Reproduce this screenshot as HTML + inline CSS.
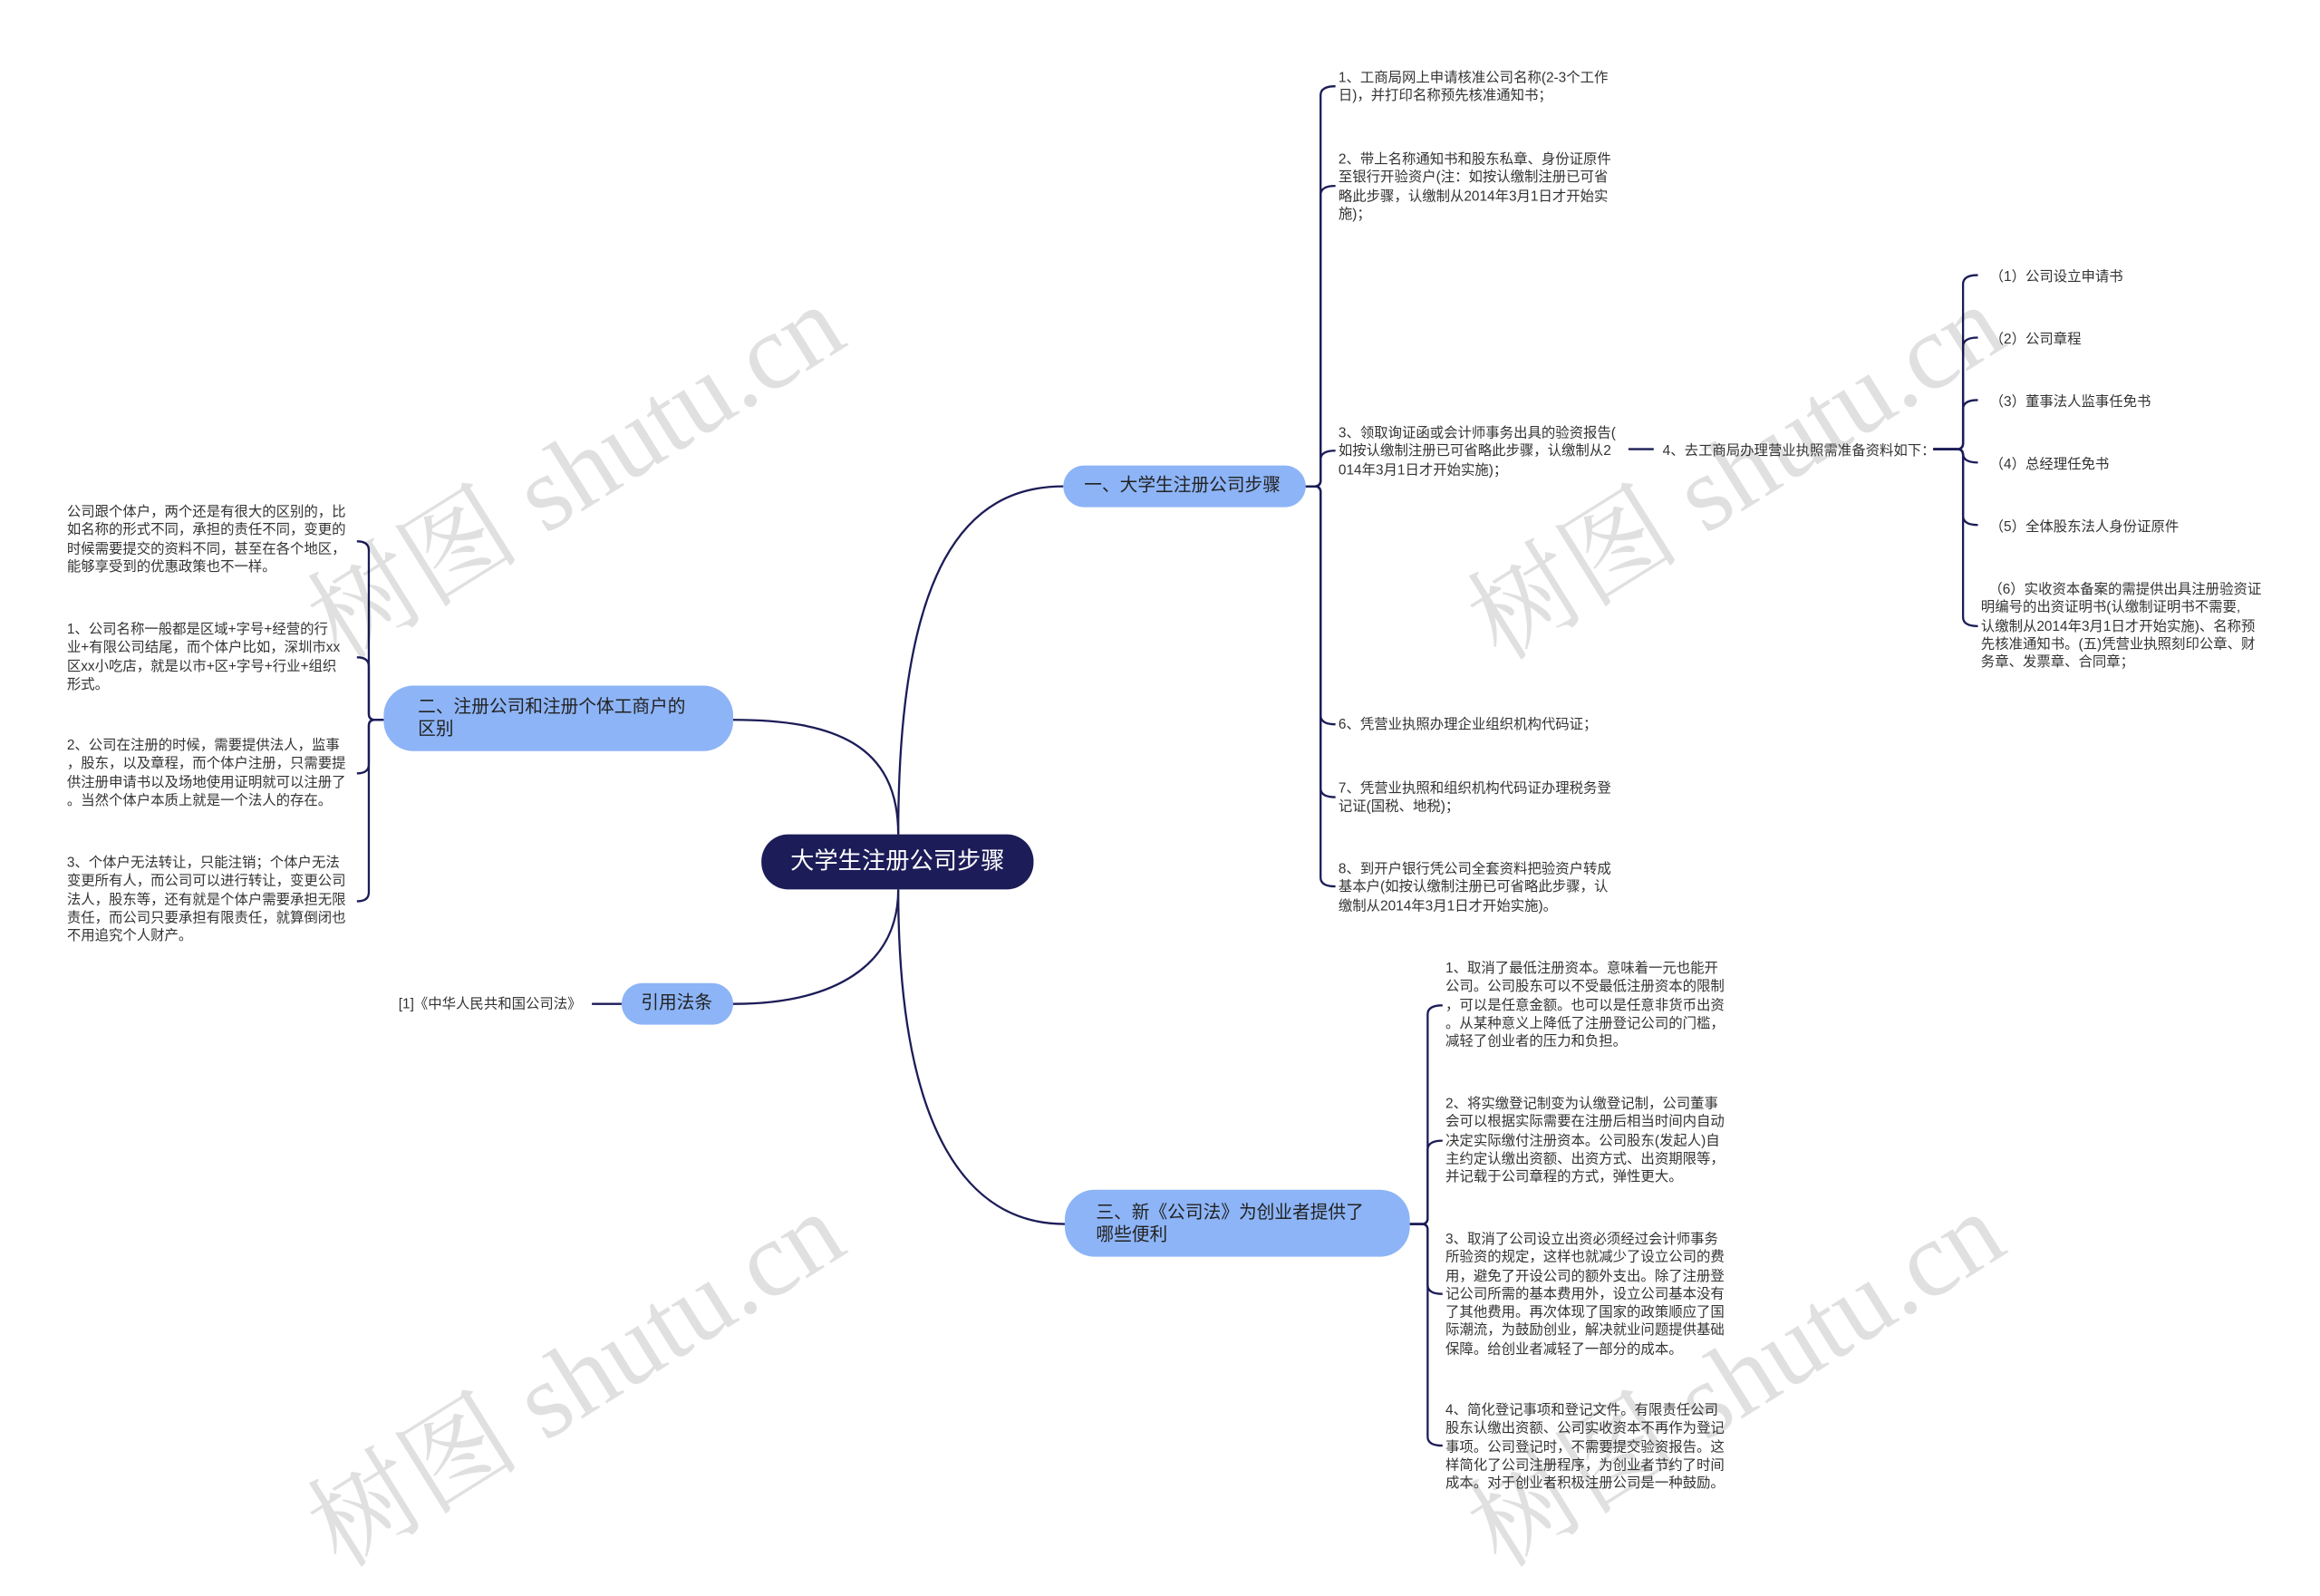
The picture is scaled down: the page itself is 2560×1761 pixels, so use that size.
<!DOCTYPE html>
<html><head><meta charset="utf-8">
<style>
html,body{margin:0;padding:0;background:#fff;}
body{width:2560px;height:1713px;overflow:hidden;position:relative;}
#w{position:absolute;left:0;top:0;width:1560px;height:1044px;transform:scale(1.641);transform-origin:0 0;font-family:"Liberation Sans","Noto Sans CJK SC",sans-serif;}
.t{position:absolute;font-size:9.4px;line-height:12.3px;color:#333;white-space:nowrap;}
.b{position:absolute;background:#8db4f6;border-radius:15px;color:#222;font-size:12px;line-height:15px;box-sizing:border-box;}
.root{position:absolute;left:512px;top:561px;width:183px;height:37px;background:#1c1c58;border-radius:18px;color:#fff;font-size:16px;line-height:37px;text-align:center;}
.wm{position:absolute;font-family:"Liberation Serif","Noto Serif CJK SC",serif;font-size:72px;color:rgba(0,0,0,0.12);transform:rotate(-32deg);transform-origin:0 0;white-space:nowrap;}
svg{position:absolute;left:0;top:0;}
</style></head><body><div id="w">
<svg width="1560" height="1044" fill="none" stroke="#1c1c58" stroke-width="1.4">
<path d="M604 561 C604 380 650 327 715 327"/>
<path d="M604 561 C604 500 560 484 493 484"/>
<path d="M604 598 C604 650 560 675 493 675"/>
<path d="M604 598 C604 760 650 823 716 823"/>
<path d="M878 327 H884 Q888 327 888 323 V64 Q888 58 898 58"/>
<path d="M878 327 H884 Q888 327 888 323 V131 Q888 125 898 125"/>
<path d="M878 327 H884 Q888 327 888 323 V309 Q888 303 898 303"/>
<path d="M878 327 H884 Q888 327 888 331 V481 Q888 487 898 487"/>
<path d="M878 327 H884 Q888 327 888 331 V530 Q888 536 898 536"/>
<path d="M878 327 H884 Q888 327 888 331 V590 Q888 596 898 596"/>
<path d="M1095 302 H1112"/>
<path d="M1300 302 H1316 Q1320 302 1320 298 V191 Q1320 185 1330 185"/>
<path d="M1300 302 H1316 Q1320 302 1320 298 V233 Q1320 227 1330 227"/>
<path d="M1300 302 H1316 Q1320 302 1320 298 V275 Q1320 269 1330 269"/>
<path d="M1300 302 H1316 Q1320 302 1320 306 V305 Q1320 311 1330 311"/>
<path d="M1300 302 H1316 Q1320 302 1320 306 V347 Q1320 353 1330 353"/>
<path d="M1300 302 H1316 Q1320 302 1320 306 V415 Q1320 421 1330 421"/>
<path d="M258 484 H252 Q248 484 248 480 V370 Q248 364 240 364"/>
<path d="M258 484 H252 Q248 484 248 480 V448 Q248 442 240 442"/>
<path d="M258 484 H252 Q248 484 248 488 V514 Q248 520 240 520"/>
<path d="M258 484 H252 Q248 484 248 488 V600 Q248 606 240 606"/>
<path d="M398 675 H418"/>
<path d="M948 823 H956 Q960 823 960 819 V682 Q960 676 970 676"/>
<path d="M948 823 H956 Q960 823 960 819 V773 Q960 767 970 767"/>
<path d="M948 823 H956 Q960 823 960 827 V864 Q960 870 970 870"/>
<path d="M948 823 H956 Q960 823 960 827 V966 Q960 972 970 972"/>
</svg>

<div class="wm" style="left:185px;top:375px;">树图 shutu.cn</div>
<div class="wm" style="left:965px;top:375px;">树图 shutu.cn</div>
<div class="wm" style="left:185px;top:985px;">树图 shutu.cn</div>
<div class="wm" style="left:965px;top:985px;">树图 shutu.cn</div>

<div class="root">大学生注册公司步骤</div>
<div class="b" style="left:715px;top:313px;width:163px;height:28px;padding:6px 0 0 14px;">一、大学生注册公司步骤</div>
<div class="b" style="left:258px;top:461px;width:235px;height:44px;padding:7px 0 0 23px;border-radius:20px;">二、注册公司和注册个体工商户的<br>区别</div>
<div class="b" style="left:418px;top:661px;width:75px;height:28px;padding:6px 0 0 13px;">引用法条</div>
<div class="b" style="left:716px;top:800px;width:232px;height:45px;padding:8px 0 0 21px;border-radius:20px;">三、新《公司法》为创业者提供了<br>哪些便利</div>

<div class="t" style="left:900px;top:46px;">1、工商局网上申请核准公司名称(2-3个工作<br>日)，并打印名称预先核准通知书；</div>
<div class="t" style="left:900px;top:101px;">2、带上名称通知书和股东私章、身份证原件<br>至银行开验资户(注：如按认缴制注册已可省<br>略此步骤，认缴制从2014年3月1日才开始实<br>施)；</div>
<div class="t" style="left:900px;top:285px;">3、领取询证函或会计师事务出具的验资报告(<br>如按认缴制注册已可省略此步骤，认缴制从2<br>014年3月1日才开始实施)；</div>
<div class="t" style="left:1118px;top:297px;">4、去工商局办理营业执照需准备资料如下：</div>
<div class="t" style="left:1338px;top:180px;">（1）公司设立申请书</div>
<div class="t" style="left:1338px;top:222px;">（2）公司章程</div>
<div class="t" style="left:1338px;top:264px;">（3）董事法人监事任免书</div>
<div class="t" style="left:1338px;top:306px;">（4）总经理任免书</div>
<div class="t" style="left:1338px;top:348px;">（5）全体股东法人身份证原件</div>
<div class="t" style="left:1332px;top:390px;">&nbsp;&nbsp;（6）实收资本备案的需提供出具注册验资证<br>明编号的出资证明书(认缴制证明书不需要,<br>认缴制从2014年3月1日才开始实施)、名称预<br>先核准通知书。(五)凭营业执照刻印公章、财<br>务章、发票章、合同章；</div>
<div class="t" style="left:900px;top:481px;">6、凭营业执照办理企业组织机构代码证；</div>
<div class="t" style="left:900px;top:524px;">7、凭营业执照和组织机构代码证办理税务登<br>记证(国税、地税)；</div>
<div class="t" style="left:900px;top:578px;">8、到开户银行凭公司全套资料把验资户转成<br>基本户(如按认缴制注册已可省略此步骤，认<br>缴制从2014年3月1日才开始实施)。</div>

<div class="t" style="left:45px;top:338px;">公司跟个体户，两个还是有很大的区别的，比<br>如名称的形式不同，承担的责任不同，变更的<br>时候需要提交的资料不同，甚至在各个地区，<br>能够享受到的优惠政策也不一样。</div>
<div class="t" style="left:45px;top:417px;">1、公司名称一般都是区域+字号+经营的行<br>业+有限公司结尾，而个体户比如，深圳市xx<br>区xx小吃店，就是以市+区+字号+行业+组织<br>形式。</div>
<div class="t" style="left:45px;top:495px;">2、公司在注册的时候，需要提供法人，监事<br>，股东，以及章程，而个体户注册，只需要提<br>供注册申请书以及场地使用证明就可以注册了<br>。当然个体户本质上就是一个法人的存在。</div>
<div class="t" style="left:45px;top:574px;">3、个体户无法转让，只能注销；个体户无法<br>变更所有人，而公司可以进行转让，变更公司<br>法人，股东等，还有就是个体户需要承担无限<br>责任，而公司只要承担有限责任，就算倒闭也<br>不用追究个人财产。</div>

<div class="t" style="left:268px;top:669px;">[1]《中华人民共和国公司法》</div>

<div class="t" style="left:972px;top:645px;">1、取消了最低注册资本。意味着一元也能开<br>公司。公司股东可以不受最低注册资本的限制<br>，可以是任意金额。也可以是任意非货币出资<br>。从某种意义上降低了注册登记公司的门槛，<br>减轻了创业者的压力和负担。</div>
<div class="t" style="left:972px;top:736px;">2、将实缴登记制变为认缴登记制，公司董事<br>会可以根据实际需要在注册后相当时间内自动<br>决定实际缴付注册资本。公司股东(发起人)自<br>主约定认缴出资额、出资方式、出资期限等，<br>并记载于公司章程的方式，弹性更大。</div>
<div class="t" style="left:972px;top:827px;">3、取消了公司设立出资必须经过会计师事务<br>所验资的规定，这样也就减少了设立公司的费<br>用，避免了开设公司的额外支出。除了注册登<br>记公司所需的基本费用外，设立公司基本没有<br>了其他费用。再次体现了国家的政策顺应了国<br>际潮流，为鼓励创业，解决就业问题提供基础<br>保障。给创业者减轻了一部分的成本。</div>
<div class="t" style="left:972px;top:942px;">4、简化登记事项和登记文件。有限责任公司<br>股东认缴出资额、公司实收资本不再作为登记<br>事项。公司登记时，不需要提交验资报告。这<br>样简化了公司注册程序，为创业者节约了时间<br>成本。对于创业者积极注册公司是一种鼓励。</div>
</div></body></html>
